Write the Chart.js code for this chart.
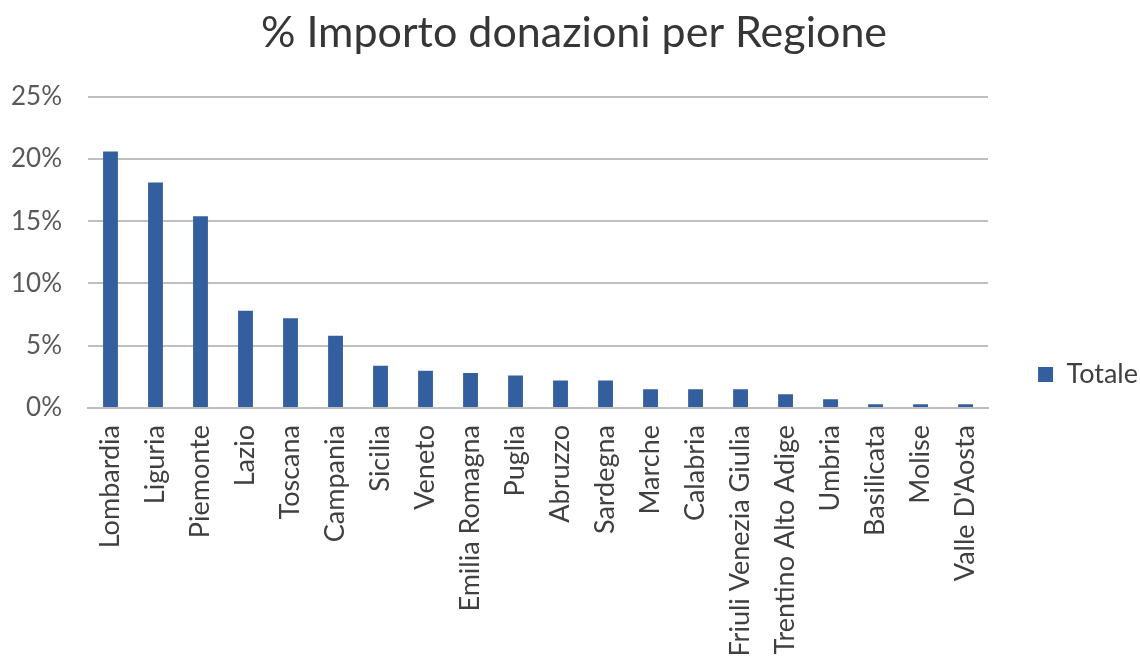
<!DOCTYPE html>
<html>
<head>
<meta charset="utf-8">
<script src="https://cdn.jsdelivr.net/npm/chart.js@4/dist/chart.umd.min.js"></script>
<style>
  html, body { margin: 0; padding: 0; background: #ffffff; }
  #wrap { width: 1140px; height: 661px; position: relative; }
</style>
</head>
<body>
<div id="wrap"><canvas id="c"></canvas></div>
<script>
const categories = ["Lombardia", "Liguria", "Piemonte", "Lazio", "Toscana", "Campania", "Sicilia", "Veneto", "Emilia Romagna", "Puglia", "Abruzzo", "Sardegna", "Marche", "Calabria", "Friuli Venezia Giulia", "Trentino Alto Adige", "Umbria", "Basilicata", "Molise", "Valle D'Aosta"];
const totale = [20.6, 18.1, 15.4, 7.8, 7.2, 5.8, 3.4, 3.0, 2.8, 2.6, 2.2, 2.2, 1.5, 1.5, 1.5, 1.1, 0.7, 0.3, 0.3, 0.3];
const yTickValues = [0, 5, 10, 15, 20, 25];
const yTickLabels = ["0%", "5%", "10%", "15%", "20%", "25%"];
const seriesName = "Totale";
const chartTitle = "% Importo donazioni per Regione";

const FONT = "Lato, 'Open Sans', sans-serif";

const legendShift = {
  id: 'legendShift',
  afterLayout(chart) {
    const lg = chart.legend;
    if (lg) { lg.top += 44; lg.bottom += 44; }
  }
};

new Chart(document.getElementById('c'), {
  type: 'bar',
  data: {
    labels: categories,
    datasets: [{
      label: seriesName,
      data: totale,
      backgroundColor: '#335f9e',
      borderWidth: 0,
      categoryPercentage: 1.0,
      barPercentage: 0.33
    }]
  },
  plugins: [legendShift],
  options: {
    responsive: true,
    maintainAspectRatio: false,
    animation: false,
    devicePixelRatio: 1,
    layout: { padding: { left: 0, right: -8, top: 0, bottom: 0 } },
    plugins: {
      title: {
        display: true,
        text: chartTitle,
        color: '#363636',
        font: { family: FONT, size: 43, weight: 'normal' },
        padding: { top: 7, bottom: 38 }
      },
      legend: {
        display: true,
        position: 'right',
        labels: {
          color: '#404040',
          font: { family: FONT, size: 27 },
          boxWidth: 15,
          boxHeight: 15,
          padding: 50
        }
      },
      tooltip: { enabled: false }
    },
    scales: {
      x: {
        grid: { display: false, drawTicks: false },
        border: { display: true, color: '#bfbfbf', width: 2 },
        ticks: {
          color: '#404040',
          font: { family: FONT, size: 27 },
          minRotation: 90,
          maxRotation: 90,
          autoSkip: false,
          padding: 17
        },
        afterFit: (scale) => { scale.height = 253; }
      },
      y: {
        min: 0,
        max: 25,
        grid: { color: '#bfbfbf', lineWidth: 2, drawTicks: false },
        border: { display: false },
        afterBuildTicks: (scale) => { scale.ticks = yTickValues.map(v => ({ value: v })); },
        ticks: {
          color: '#595959',
          font: { family: FONT, size: 26 },
          padding: 26,
          callback: (v) => { const i = yTickValues.indexOf(v); return i >= 0 ? yTickLabels[i] : ''; }
        },
        afterFit: (scale) => { scale.width = 88; }
      }
    }
  }
});
</script>
</body>
</html>
